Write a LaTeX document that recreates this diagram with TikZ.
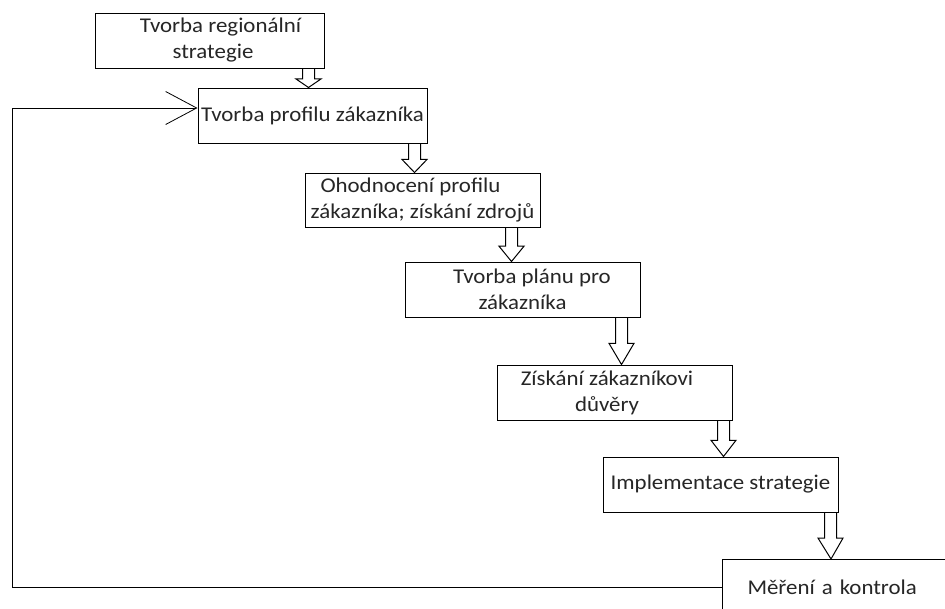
\documentclass[tikz,border=0pt]{standalone}
\usepackage{fontspec}
\setmainfont{Carlito}[FakeStretch=1.09]
\usetikzlibrary{calc,arrows.meta}
\begin{document}
\begin{tikzpicture}[x=1pt,y=-1pt,
  box/.style={draw,line width=1pt,rectangle,inner sep=0pt,align=center,
    minimum width=235pt,minimum height=55pt,text=black!85,
    font=\fontsize{21}{26}\selectfont},
  blk/.style={draw,line width=1pt,line join=miter,
    to path={let \p1=(\tikztostart), \p2=(\tikztotarget),
      \n1={0.45*(\y1-\y2)} in
      (\x1-6pt,\y1) -- (\x1-6pt,{\y2+\n1*1pt}) -- (\x1-12.5pt,{\y2+\n1*1pt})
      -- (\x2,\y2) -- (\x1+12.5pt,{\y2+\n1*1pt}) -- (\x1+6pt,{\y2+\n1*1pt})
      -- (\x1+6pt,\y1)}},
  fb/.style={draw,line width=1pt,-{Straight Barb[length=31pt,width=33pt,line width=0.8pt]}}]
\clip (0,0) rectangle (945,608);
\fill[white] (0,0) rectangle (945,608);

\node[box,minimum width=229pt] (b1) at (209.5,40.5) {\hspace*{22pt}Tvorba regionální\\\hspace*{7pt}strategie};
\node[box,minimum width=229pt] (b2) at (312.5,115.5) {Tvorba profilu zákazníka};
\node[box,minimum height=54pt] (b3) at (422.5,200) {Ohodnocení profilu\hspace*{24pt}\\zákazníka; získání zdrojů};
\node[box] (b4) at (522.5,289.5) {\hspace*{19pt}Tvorba plánu pro\\zákazníka};
\node[box] (b5) at (614.5,392.5) {Získání zákazníkovi\hspace*{15pt}\\důvěry\hspace*{15pt}};
\node[box] (b6) at (720.5,484.5) {Implementace strategie};
\node[box,anchor=north west,align=left,minimum height=56pt,
      text width=240pt,inner xsep=25pt] (b7) at (722,559) {Měření a kontrola};

\draw[blk] ([xshift=214pt]b1.south west) to ([xshift=111pt]b2.north west);
\draw[blk] ([xshift=217pt]b2.south west) to ([xshift=110pt]b3.north west);
\draw[blk] ([xshift=207pt]b3.south west) to ([xshift=107pt]b4.north west);
\draw[blk] ([xshift=217pt]b4.south west) to ([xshift=125pt]b5.north west);
\draw[blk] ([xshift=227pt]b5.south west) to ([xshift=121pt]b6.north west);
\draw[blk] ([xshift=228pt]b6.south west) to ([xshift=109pt]b7.north west);

\coordinate (lc) at (12,108);
\draw[fb] (b7.west) -| (lc) -- ([yshift=7.5pt]b2.west);
\end{tikzpicture}
\end{document}
